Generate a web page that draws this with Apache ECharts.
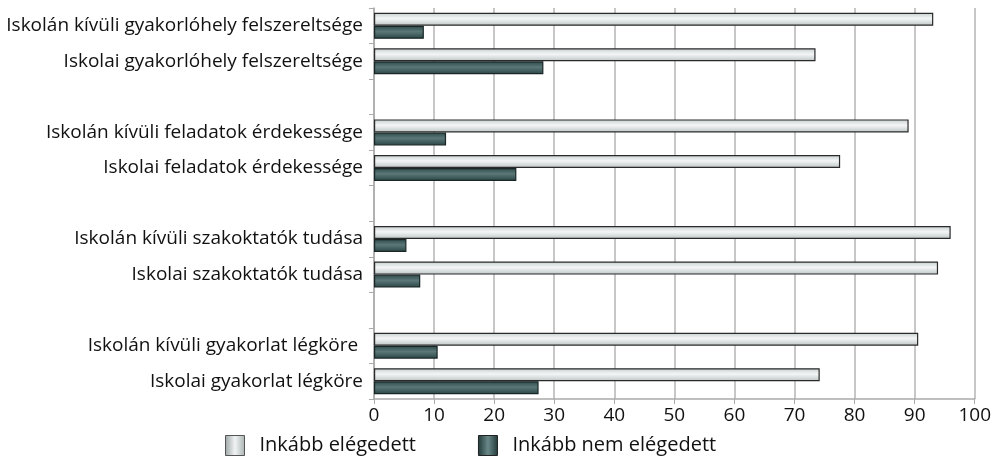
<!DOCTYPE html>
<html>
<head>
<meta charset="utf-8">
<script src="https://cdn.jsdelivr.net/npm/echarts@6/dist/echarts.min.js"></script>
<style>
  html, body { margin: 0; padding: 0; background: #fff; }
  #chart { width: 994px; height: 463px; }
</style>
</head>
<body>
<div id="chart"></div>
<script>
// categories top to bottom, blanks are the gaps between groups
var categories = [
  "Iskolán kívüli gyakorlóhely felszereltsége",
  "Iskolai gyakorlóhely felszereltsége",
  "",
  "Iskolán kívüli feladatok érdekessége",
  "Iskolai feladatok érdekessége",
  " ",
  "Iskolán kívüli szakoktatók tudása",
  "Iskolai szakoktatók tudása",
  "  ",
  "Iskolán kívüli gyakorlat légköre ",
  "Iskolai gyakorlat légköre"
];
var seriesNames = ["Inkább elégedett", "Inkább nem elégedett"];
var satisfied = [93.1, 73.5, null, 89.0, 77.6, null, 96.0, 93.9, null, 90.6, 74.2];
var notSatisfied = [8.3, 28.2, null, 12.0, 23.7, null, 5.4, 7.7, null, 10.6, 27.4];
var xTicks = [0, 10, 20, 30, 40, 50, 60, 70, 80, 90, 100];

var FONT = "Open Sans";

function vGrad(a, b, c) {
  return new echarts.graphic.LinearGradient(0, 0, 0, 1, [
    { offset: 0, color: a }, { offset: 0.45, color: b }, { offset: 1, color: c }
  ]);
}
function hGrad(a, b, c) {
  return new echarts.graphic.LinearGradient(0, 0, 1, 0, [
    { offset: 0, color: a }, { offset: 0.5, color: b }, { offset: 1, color: c }
  ]);
}

var chart = echarts.init(document.getElementById("chart"));
chart.setOption({
  animation: false,
  textStyle: { fontFamily: FONT },
  legend: {
    top: 430,
    left: 220,
    icon: "rect",
    itemWidth: 19,
    itemHeight: 20,
    itemGap: 62,
    textStyle: { fontSize: 20, color: "#111", fontFamily: FONT, padding: [0, 0, 0, 10] },
    data: [
      { name: seriesNames[0], itemStyle: { color: hGrad("#9aa4a4", "#f2f4f4", "#a8b2b2"), borderColor: "#555", borderWidth: 1 } },
      { name: seriesNames[1], itemStyle: { color: hGrad("#203838", "#6a8888", "#203838"), borderColor: "#222", borderWidth: 1 } }
    ]
  },
  grid: { left: 374, right: 19, top: 8, bottom: 64 },
  xAxis: {
    type: "value",
    min: xTicks[0],
    max: xTicks[xTicks.length - 1],
    interval: 10,
    axisLine: { show: true, lineStyle: { color: "#aaa", width: 1.5 } },
    axisTick: { show: true, length: 5, lineStyle: { color: "#aaa" } },
    axisLabel: { fontSize: 19, color: "#111", margin: 7, fontFamily: FONT },
    splitLine: { show: true, lineStyle: { color: "#b4b4b4", width: 1.5 } }
  },
  yAxis: {
    type: "category",
    inverse: true,
    data: categories,
    axisLine: { show: true, lineStyle: { color: "#aaa", width: 1.5 } },
    axisTick: { show: true, length: 5, lineStyle: { color: "#aaa" } },
    axisLabel: { fontSize: 19, color: "#111", margin: 11, fontFamily: FONT },
    splitLine: { show: false }
  },
  series: [
    {
      name: seriesNames[0],
      type: "bar",
      barWidth: 13,
      barGap: "0%",
      data: satisfied,
      itemStyle: { color: vGrad("#c6cece", "#f4f6f6", "#bcc4c4"), borderColor: "#2a2a2a", borderWidth: 1.2 }
    },
    {
      name: seriesNames[1],
      type: "bar",
      barWidth: 13,
      barGap: "0%",
      data: notSatisfied,
      itemStyle: { color: vGrad("#2c4848", "#5b7777", "#2a4444"), borderColor: "#1a2626", borderWidth: 1.2 }
    }
  ]
});
</script>
</body>
</html>
